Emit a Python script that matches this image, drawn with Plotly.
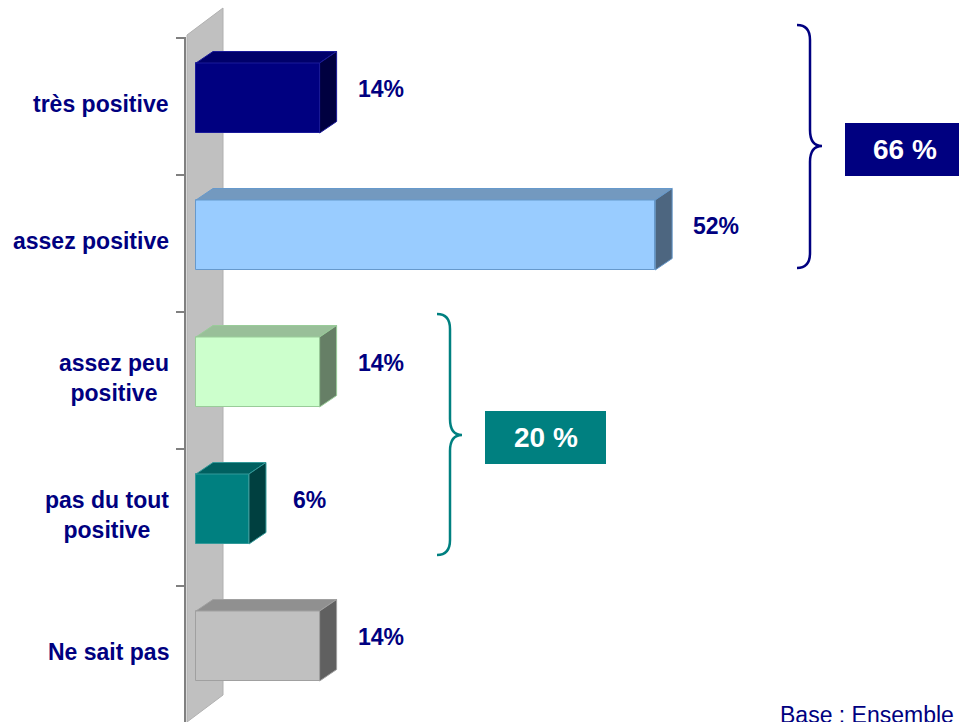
import plotly.graph_objects as go

# ---------------- data ----------------
categories = ["très positive", "assez positive", "assez peu<br>positive",
              "pas du tout<br>positive", "Ne sait pas"]
values = [14, 52, 14, 6, 14]
value_labels = ["14%", "52%", "14%", "6%", "14%"]
front_colors = ["#000080", "#99CCFF", "#CCFFCC", "#008080", "#C0C0C0"]
top_colors = ["#00006A", "#7399BF", "#99BF99", "#006060", "#909090"]
side_colors = ["#000040", "#4D6680", "#667F66", "#004040", "#606060"]
edge_colors = ["#1A1A99", "#6699CC", "#99CC99", "#339999", "#A0A0A0"]
group_members = [[0, 1], [2, 3]]
group_colors = ["#000080", "#008080"]
base_note = "Base : Ensemble"

# ---------------- layout geometry ----------------
W, H = 959, 722
PX_PER_PCT = 8.83      # horizontal pixels per percentage point
X0_PX = 196            # pixel of value 0
ROW_PX = 137           # pixel spacing between categories
Y0_PX = 98             # pixel of first category centre
BAR_W = 0.511          # bar thickness (category units)
DX = 17 / PX_PER_PCT   # 3D depth offset (value units)
DY = 11.5 / ROW_PX     # 3D depth offset (category units)

x_range = [-X0_PX / PX_PER_PCT, (W - X0_PX) / PX_PER_PCT]
y_range = [(H - Y0_PX) / ROW_PX, -Y0_PX / ROW_PX]

def xpx(p):
    return (p - X0_PX) / PX_PER_PCT

def ypx(p):
    return (p - Y0_PX) / ROW_PX

NAVY = "#000080"
FONT = "Liberation Sans, Arial, sans-serif"

fig = go.Figure()

# top and side faces of the 3D bars
for i, v in enumerate(values):
    yt = i - BAR_W / 2
    yb = i + BAR_W / 2
    fig.add_trace(go.Scatter(
        x=[0, v, v + DX, DX, 0], y=[yt, yt, yt - DY, yt - DY, yt],
        mode="lines", fill="toself", fillcolor=top_colors[i],
        line=dict(color=edge_colors[i], width=1), hoverinfo="skip"))
    fig.add_trace(go.Scatter(
        x=[v, v + DX, v + DX, v, v], y=[yt, yt - DY, yb - DY, yb, yt],
        mode="lines", fill="toself", fillcolor=side_colors[i],
        line=dict(color=edge_colors[i], width=1), hoverinfo="skip"))

# front faces
fig.add_trace(go.Bar(
    y=list(range(len(values))), x=values, orientation="h", width=BAR_W,
    marker=dict(color=front_colors, line=dict(color=edge_colors, width=1)),
    hoverinfo="skip"))

shapes = []
# back wall
wl, wr = xpx(187), xpx(223)
shapes.append(dict(
    type="path", xref="x", yref="y", layer="below",
    path=f"M {wl},{ypx(35)} L {wr},{ypx(8)} L {wr},{ypx(695)} L {wl},{ypx(722)} L {wl},{ypx(760)} Z",
    fillcolor="#C0C0C0", line=dict(color="#B0B0B0", width=1)))
# category axis line
shapes.append(dict(type="line", xref="x", yref="y", x0=xpx(185), x1=xpx(185),
                   y0=-0.44, y1=y_range[0] + 0.1,
                   line=dict(color="#808080", width=2)))

annotations = []
# category labels
for i, c in enumerate(categories):
    annotations.append(dict(
        x=xpx(171), y=i + 0.045, xref="x", yref="y", text=c, showarrow=False,
        xanchor="right", yanchor="middle", align="center",
        font=dict(family=FONT, size=23, color=NAVY, weight="bold")))
# value labels
for i, (v, t) in enumerate(zip(values, value_labels)):
    annotations.append(dict(
        x=v + 6.9, y=i - 0.065, xref="x", yref="y", text=t, showarrow=False,
        xanchor="center", yanchor="middle",
        font=dict(family=FONT, size=23, color=NAVY, weight="bold")))

# braces + total boxes (decoration placed in pixel layout)
def px2paper(x, y):
    return x / W, 1 - y / H

def brace_path(xl, yt, yc, yb):
    xm, xp = xl + 13, xl + 25
    pts = [("M", [(xl, yt)]), ("Q", [(xm, yt), (xm, yt + 15)]),
           ("L", [(xm, yc - 16)]), ("Q", [(xm, yc), (xp, yc)]),
           ("Q", [(xm, yc), (xm, yc + 16)]), ("L", [(xm, yb - 15)]),
           ("Q", [(xm, yb), (xl, yb)])]
    out = []
    for cmd, ps in pts:
        out.append(cmd + " " + " ".join("%.5f,%.5f" % px2paper(*p) for p in ps))
    return " ".join(out)

brace_layout = [  # (brace left x, top y, centre y, bottom y, box x0, box x1, box y0, box y1)
    (797, 25, 146, 268, 845, 975, 123, 176),
    (437, 314, 435, 555, 485, 606, 411, 464),
]
for members, col, (bx, bt, bc, bb, x0, x1, y0, y1) in zip(group_members, group_colors, brace_layout):
    total = sum(values[m] for m in members)
    shapes.append(dict(type="path", xref="paper", yref="paper",
                       path=brace_path(bx, bt, bc, bb),
                       line=dict(color=col, width=2.5)))
    px0, py1 = px2paper(x0, y0)
    px1, py0 = px2paper(x1, y1)
    shapes.append(dict(type="rect", xref="paper", yref="paper",
                       x0=px0, x1=px1, y0=py0, y1=py1,
                       fillcolor=col, line=dict(width=0)))
    tx, ty = px2paper((x0 + x1) / 2 if x1 < W else 905, (y0 + y1) / 2)
    annotations.append(dict(x=tx, y=ty, xref="paper", yref="paper",
                            text=f"{total} %", showarrow=False,
                            xanchor="center", yanchor="middle",
                            font=dict(family=FONT, size=28, color="white", weight="bold")))

bx, by = px2paper(778, 715)
annotations.append(dict(x=bx, y=by, xref="paper", yref="paper", text=base_note,
                        showarrow=False, xanchor="left", yanchor="middle",
                        font=dict(family=FONT, size=23, color=NAVY)))

fig.update_layout(
    width=W, height=H, margin=dict(l=0, r=0, t=0, b=0),
    paper_bgcolor="white", plot_bgcolor="white", showlegend=False,
    xaxis=dict(range=x_range, visible=False, fixedrange=True),
    yaxis=dict(range=y_range, showgrid=False, zeroline=False, showline=False,
               tickmode="array", tickvals=[i - 0.44 for i in range(len(values))],
               ticks="outside", ticklen=10, tickwidth=2, tickcolor="#808080",
               showticklabels=False, anchor="free", position=186 / W, fixedrange=True),
    shapes=shapes, annotations=annotations,
    bargap=0,
)

fig.write_html("out.html", config={"displayModeBar": False},
               post_script="document.body.style.margin='0';document.body.style.overflow='hidden';")
